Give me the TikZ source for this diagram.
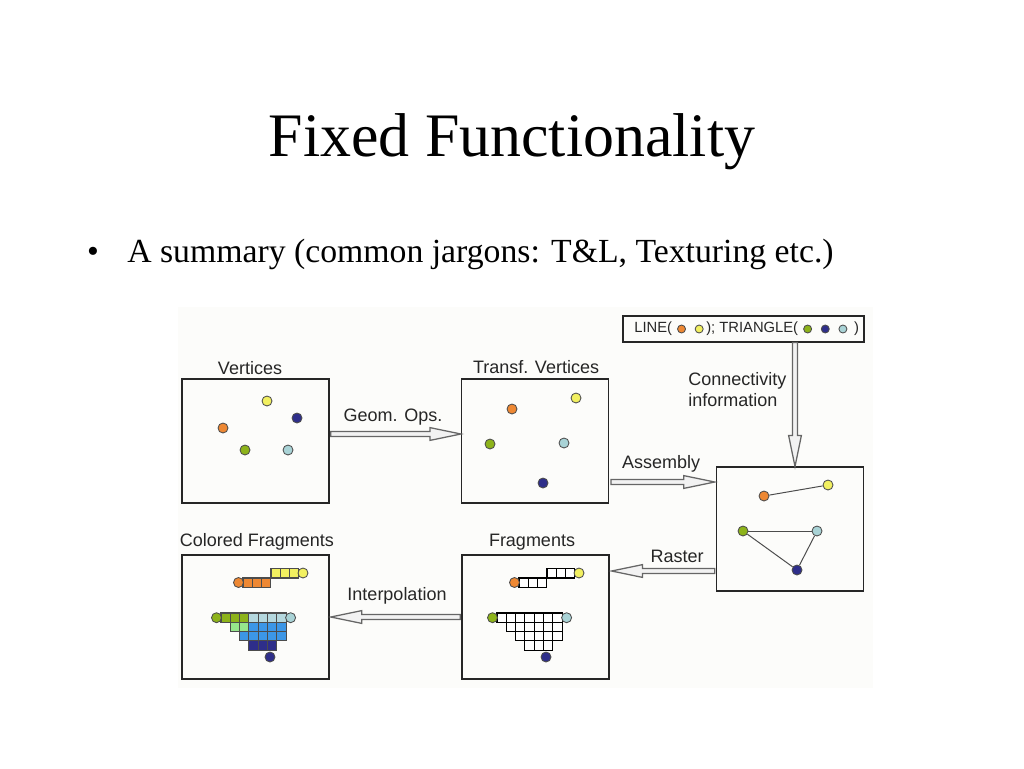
\documentclass[tikz,border=0pt]{standalone}
\usepackage{fontspec}
\setmainfont{Liberation Serif}
\newfontfamily\diagfont{Liberation Sans}
\usetikzlibrary{calc,positioning}

\definecolor{vorange}{RGB}{238,136,51}
\definecolor{vyellow}{RGB}{242,240,96}
\definecolor{vgreen}{RGB}{141,179,26}
\definecolor{vnavy}{RGB}{46,46,138}
\definecolor{vcyan}{RGB}{169,211,214}
\definecolor{flgreen}{RGB}{150,230,140}
\definecolor{fblue}{RGB}{60,150,230}
\definecolor{fcyan}{RGB}{181,216,222}
\definecolor{diagbg}{RGB}{252,252,250}

\tikzset{
  stage/.style={draw=black!85, line width=0.8pt, minimum width=36.75mm, minimum height=31mm, inner sep=0pt},
  caption/.style={font=\diagfont\fontsize{12.8}{15}\selectfont, text=black!85, inner sep=0pt},
  vx/.style={circle, draw=black!70, line width=0.6pt, fill=#1, inner sep=0pt, minimum size=2.5mm},
  smallvx/.style={vx=#1, minimum size=2mm},
  cell/.style={draw=black, line width=0.8pt, fill=#1},
  edge/.style={draw=black!70, line width=0.7pt},
  bigarrow/.style={draw=black!60, line width=0.9pt, fill=black!5, line join=miter,
    to path={
      ($(\tikztostart)!0.65mm!90:(\tikztotarget)$)
      -- ($(\tikztotarget)!7.75mm!(\tikztostart)!0.65mm!-90:(\tikztostart)$)
      -- ($(\tikztotarget)!7.75mm!(\tikztostart)!1.6mm!-90:(\tikztostart)$)
      -- (\tikztotarget)
      -- ($(\tikztotarget)!7.75mm!(\tikztostart)!1.6mm!90:(\tikztostart)$)
      -- ($(\tikztotarget)!7.75mm!(\tikztostart)!0.65mm!90:(\tikztostart)$)
      -- ($(\tikztostart)!0.65mm!-90:(\tikztotarget)$)
      -- cycle}}
}

\begin{document}
\begin{tikzpicture}[x=0.25mm,y=-0.25mm]
\useasboundingbox (0,0) rectangle (1024,768);
\fill[white] (0,0) rectangle (1024,768);

% slide text
\node[font=\fontsize{44}{50}\selectfont, anchor=base] (title) at (512,156) {Fixed Functionality};
\node[font=\fontsize{24}{28}\selectfont, anchor=base, inner sep=0pt] (bullet) at (93,262) {\textbullet};
\node[font=\fontsize{24}{28}\selectfont, anchor=base west, inner sep=0pt] (point) at (127,262) {A summary (common jargons: T\&L, Texturing etc.)};

% diagram
\fill[diagbg] (178,307) rectangle (873,688);

\node[stage] (vert) at (255.5,441) {};
\node[stage] (tvert) at (535,441) {};
\node[stage] (asm) at (790,529) {};
\node[stage] (frag) at (535.5,617) {};
\node[stage] (cfrag) at (255.5,617) {};

\node[caption] (vertcap) at (250,368) {Vertices};
\node[caption] (tvertcap) at (536,367) {Transf. Vertices};
\node[caption] (fragcap) at (532,542) {Fragments};
\node[caption] (cfragcap) at (257,542) {Colored Fragments};

% connectivity legend
\node[draw=black!85, line width=0.8pt, minimum width=60.25mm, minimum height=6.5mm] (legend) at (743.5,329) {};
\begin{scope}[every node/.append style={font=\diagfont\fontsize{10.5}{12}\selectfont, text=black!85}]
\node[anchor=west, inner sep=0pt] (lline) at (634,329) {LINE(};
\node[smallvx=vorange, right=1.2mm of lline] (l1) {};
\node[smallvx=vyellow, right=2.2mm of l1] (l2) {};
\node[inner sep=0pt, right=0.6mm of l2] (ltri) {); TRIANGLE(};
\node[smallvx=vgreen, right=1.2mm of ltri] (l3) {};
\node[smallvx=vnavy, right=2.2mm of l3] (l4) {};
\node[smallvx=vcyan, right=2.2mm of l4] (l5) {};
\node[inner sep=0pt, right=1.6mm of l5] (lend) {)};
\end{scope}

% vertices
\node[vx=vyellow] (v1) at (267,401) {};
\node[vx=vnavy] (v2) at (297,418) {};
\node[vx=vorange] (v3) at (223,428) {};
\node[vx=vgreen] (v4) at (245,450) {};
\node[vx=vcyan] (v5) at (288,450) {};

% transformed vertices
\node[vx=vorange] (t1) at (512,409) {};
\node[vx=vyellow] (t2) at (576,398) {};
\node[vx=vgreen] (t3) at (490,444) {};
\node[vx=vcyan] (t4) at (564,443) {};
\node[vx=vnavy] (t5) at (543,483) {};

% assembled primitives
\node[vx=vorange] (ao) at (764,496) {};
\node[vx=vyellow] (ay) at (828,485) {};
\node[vx=vgreen] (ag) at (743,531) {};
\node[vx=vcyan] (ac) at (817,531) {};
\node[vx=vnavy] (an) at (797,570) {};
\draw[edge] (ao) -- (ay);
\draw[edge] (ag) -- (ac);
\draw[edge] (ac) -- (an);
\draw[edge] (an) -- (ag);

% fragments
\foreach \k in {0,1,2} {
  \draw[cell=white] ({519+9.3*\k},578) rectangle ++(9.3,9.3);
  \draw[cell=white] ({547+9.3*\k},568.7) rectangle ++(9.3,9.3);
}
\foreach \r/\a/\b in {0/0/6,1/1/6,2/2/6,3/3/5}
  \foreach \c in {\a,...,\b}
    \draw[cell=white] ({497+9.3*\c},{613+9.3*\r}) rectangle ++(9.3,9.3);
\node[vx=vorange] (f1) at (514.5,582.5) {};
\node[vx=vyellow] (f2) at (579,573) {};
\node[vx=vgreen] (f3) at (492.5,617.7) {};
\node[vx=vcyan] (f4) at (566.6,617.7) {};
\node[vx=vnavy] (f5) at (546,657) {};

% colored fragments
\begin{scope}[xshift=-69mm]
\foreach \k in {0,1,2} {
  \draw[cell=vorange, draw=black!70] ({519+9.3*\k},578) rectangle ++(9.3,9.3);
  \draw[cell=vyellow, draw=black!70] ({547+9.3*\k},568.7) rectangle ++(9.3,9.3);
}
\foreach \r/\a/\b/\cl in {0/0/2/vgreen,0/3/6/fcyan,1/1/2/flgreen,1/3/6/fblue,2/2/6/fblue,3/3/5/vnavy}
  \foreach \c in {\a,...,\b}
    \draw[cell=\cl, draw=black!70] ({497+9.3*\c},{613+9.3*\r}) rectangle ++(9.3,9.3);
\node[vx=vorange] (c1) at (514.5,582.5) {};
\node[vx=vyellow] (c2) at (579,573) {};
\node[vx=vgreen] (c3) at (492.5,617.7) {};
\node[vx=vcyan] (c4) at (566.6,617.7) {};
\node[vx=vnavy] (c5) at (546,657) {};
\end{scope}

% pipeline arrows
\coordinate (geomin) at ([yshift=1.75mm]tvert.west);
\coordinate (asmin) at ([yshift=11.75mm]asm.west);
\coordinate (connin) at ([xshift=1.25mm]asm.north);
\coordinate (rastout) at ([yshift=-10.5mm]asm.west);
\path[bigarrow] ([xshift=0.3mm]vert.east |- geomin) to (geomin);
\path[bigarrow] ([xshift=0.5mm]tvert.east |- asmin) to ([xshift=-0.3mm]asmin);
\path[bigarrow] (legend.south -| connin) to (connin);
\path[bigarrow] ([xshift=-0.3mm]rastout) to ([xshift=0.5mm]frag.east |- rastout);
\path[bigarrow] ([xshift=-0.3mm]frag.west) to ([xshift=0.3mm]cfrag.east);

\node[caption] (geomlbl) at (393,417) {Geom. Ops.};
\node[caption] (asmlbl) at (661,464) {Assembly};
\node[caption, align=left, anchor=west] (connlbl) at (688,390) {Connectivity\\information};
\node[caption] (rastlbl) at (677,556) {Raster};
\node[caption] (interplbl) at (397,596) {Interpolation};
\end{tikzpicture}
\end{document}
